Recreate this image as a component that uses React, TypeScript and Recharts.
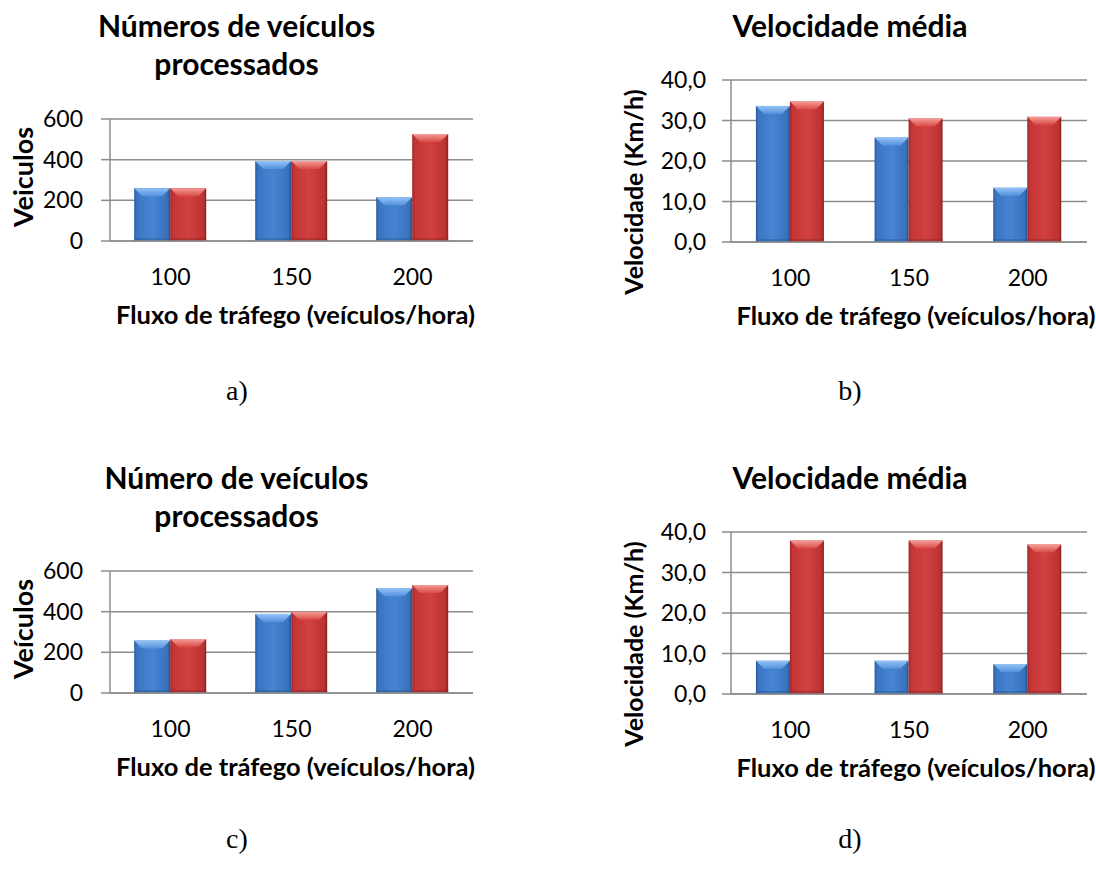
import React from "react";
import { Bar, BarChart, CartesianGrid, XAxis, YAxis } from "recharts";

const FONT = 'Lato, "Open Sans", sans-serif';
const GRAY = "#8c8c8c";

// fluxo de tráfego (veículos/hora)
const flows = ["100", "150", "200"];

// a) veículos processados
const vehA1 = [260, 393, 215];
const vehA2 = [260, 393, 526];
// b) velocidade média (km/h)
const speedB1 = [33.6, 25.8, 13.4];
const speedB2 = [34.7, 30.5, 30.9];
// c) veículos processados
const vehC1 = [258, 389, 515];
const vehC2 = [265, 399, 531];
// d) velocidade média (km/h)
const speedD1 = [8.2, 8.2, 7.4];
const speedD2 = [37.9, 37.9, 36.9];

const vehTicks = [0, 200, 400, 600];
const speedTicks = [0, 10, 20, 30, 40];

const toRows = (s1: number[], s2: number[]) => flows.map((f, i) => ({ flow: f, s1: s1[i], s2: s2[i] }));
const fmtSpeed = (v: number) => v.toFixed(1).replace(".", ",");

function BevelBar(props: any) {
  const { x, y, width, height, tone } = props;
  if (!height || height <= 0) return null;
  const bev = Math.min(8, height / 2, width / 3);
  return (
    <g>
      <rect x={x} y={y} width={width} height={height} fill={`url(#${tone}Body)`} />
      <polygon
        points={`${x},${y} ${x + width},${y} ${x + width - bev},${y + bev} ${x + bev},${y + bev}`}
        fill={`url(#${tone}Top)`}
      />
      <rect x={x} y={y + height - 3} width={width} height={3} fill={tone === "blue" ? "#2c5c9a" : "#962727"} opacity={0.5} />
    </g>
  );
}

const xTitle = (shift: number) => (props: any) => {
  const vb = props.viewBox || { x: 0, y: 0, width: 0, height: 0 };
  return (
    <text x={vb.x + vb.width / 2 + shift} y={vb.y + 83} textAnchor="middle" fontFamily={FONT} fontWeight={700} fontSize={25.5} fill="#000">
      Fluxo de tráfego (veículos/hora)
    </text>
  );
};

const yTitle = (text: string, bx: number, shift: number, size: number) => (props: any) => {
  const vb = props.viewBox || { x: 0, y: 0, width: 0, height: 0 };
  const cy = vb.y + vb.height / 2 + shift;
  return (
    <text x={bx} y={cy} transform={`rotate(-90 ${bx} ${cy})`} textAnchor="middle" fontFamily={FONT} fontWeight={700} fontSize={size} fill="#000">
      {text}
    </text>
  );
};

interface PanelProps {
  left: number;
  top: number;
  width: number;
  marginTop: number;
  marginRight: number;
  yWidth: number;
  xHeight: number;
  tickMargin: number;
  rows: { flow: string; s1: number; s2: number }[];
  max: number;
  ticks: number[];
  fmt?: (v: number) => string;
  yLabel: string;
  yLabelX: number;
  yLabelShift: number;
  yLabelSize: number;
  xLabelShift: number;
  gap: string;
}

function Panel(p: PanelProps) {
  return (
    <div style={{ position: "absolute", left: p.left, top: p.top }}>
      <BarChart
        width={p.width}
        height={340}
        data={p.rows}
        margin={{ top: p.marginTop, right: p.marginRight, bottom: 0, left: 0 }}
        barCategoryGap={p.gap}
        barGap={0}
      >
        <CartesianGrid vertical={false} stroke={GRAY} strokeWidth={1.5} />
        <XAxis
          dataKey="flow"
          height={p.xHeight}
          axisLine={{ stroke: GRAY, strokeWidth: 1.5 }}
          tickLine={false}
          tickSize={0}
          tickMargin={28}
          tick={{ fill: "#000", fontSize: 23, fontFamily: FONT }}
          label={xTitle(p.xLabelShift)}
        />
        <YAxis
          width={p.yWidth}
          domain={[0, p.max]}
          ticks={p.ticks}
          interval={0}
          tickFormatter={p.fmt}
          axisLine={{ stroke: GRAY, strokeWidth: 1.5 }}
          tickLine={{ stroke: GRAY, strokeWidth: 1.5 }}
          tickSize={9}
          tickMargin={p.tickMargin}
          tick={{ fill: "#000", fontSize: 23, fontFamily: FONT }}
          label={yTitle(p.yLabel, p.yLabelX, p.yLabelShift, p.yLabelSize)}
        />
        <Bar dataKey="s1" isAnimationActive={false} shape={(s: any) => <BevelBar {...s} tone="blue" />} />
        <Bar dataKey="s2" isAnimationActive={false} shape={(s: any) => <BevelBar {...s} tone="red" />} />
      </BarChart>
    </div>
  );
}

function Title({ left, top, width, lines }: { left: number; top: number; width: number; lines: string[] }) {
  return (
    <div
      style={{
        position: "absolute",
        left,
        top,
        width,
        textAlign: "center",
        fontFamily: FONT,
        fontWeight: 700,
        fontSize: 30,
        lineHeight: "38px",
        color: "#000",
      }}
    >
      {lines.map((l) => (
        <div key={l}>{l}</div>
      ))}
    </div>
  );
}

function Caption({ cx, baseline, text }: { cx: number; baseline: number; text: string }) {
  return (
    <div
      style={{
        position: "absolute",
        left: cx - 50,
        top: baseline - 26,
        width: 100,
        textAlign: "center",
        fontFamily: '"Liberation Serif", "Times New Roman", serif',
        fontSize: 28,
        lineHeight: "32px",
        color: "#000",
      }}
    >
      {text}
    </div>
  );
}

export default function App() {
  const vehPanel = { width: 480, marginTop: 119, marginRight: 7, yWidth: 110, xHeight: 99, tickMargin: 18, max: 600, ticks: vehTicks, yLabelX: 33, yLabelShift: -3, yLabelSize: 27, xLabelShift: 4, gap: "20%" };
  const speedPanel = { width: 496, marginTop: 80, marginRight: 9, yWidth: 131, xHeight: 98, tickMargin: 16, max: 40, ticks: speedTicks, fmt: fmtSpeed, yLabelX: 43, yLabelShift: 31, yLabelSize: 25, xLabelShift: 7, gap: "21%" };
  return (
    <div style={{ position: "absolute", left: 0, top: 0, width: 1096, height: 871, background: "#fff", overflow: "hidden" }}>
      <svg width={0} height={0} style={{ position: "absolute" }}>
        <defs>
          <linearGradient id="blueBody" x1="0" y1="0" x2="1" y2="0">
            <stop offset="0%" stopColor="#2a5a9c" />
            <stop offset="8%" stopColor="#3b75c3" />
            <stop offset="50%" stopColor="#4684d3" />
            <stop offset="92%" stopColor="#3a71bb" />
            <stop offset="100%" stopColor="#26508a" />
          </linearGradient>
          <linearGradient id="blueTop" x1="0" y1="0" x2="0" y2="1">
            <stop offset="0%" stopColor="#93c4f6" />
            <stop offset="100%" stopColor="#5590dc" />
          </linearGradient>
          <linearGradient id="redBody" x1="0" y1="0" x2="1" y2="0">
            <stop offset="0%" stopColor="#9c2727" />
            <stop offset="8%" stopColor="#c53535" />
            <stop offset="50%" stopColor="#d24141" />
            <stop offset="92%" stopColor="#bd3232" />
            <stop offset="100%" stopColor="#8a1f1f" />
          </linearGradient>
          <linearGradient id="redTop" x1="0" y1="0" x2="0" y2="1">
            <stop offset="0%" stopColor="#f59c98" />
            <stop offset="100%" stopColor="#d84a44" />
          </linearGradient>
        </defs>
      </svg>

      <Panel left={0} top={0} rows={toRows(vehA1, vehA2)} yLabel="Veiculos" {...vehPanel} />
      <Panel left={600} top={0} rows={toRows(speedB1, speedB2)} yLabel="Velocidade (Km/h)" {...speedPanel} />
      <Panel left={0} top={452} rows={toRows(vehC1, vehC2)} yLabel="Veículos" {...vehPanel} />
      <Panel left={600} top={452} rows={toRows(speedD1, speedD2)} yLabel="Velocidade (Km/h)" {...speedPanel} />

      <Title left={0} top={6} width={473} lines={["Números de veículos", "processados"]} />
      <Title left={610} top={6} width={480} lines={["Velocidade média"]} />
      <Title left={0} top={458} width={473} lines={["Número de veículos", "processados"]} />
      <Title left={610} top={458} width={480} lines={["Velocidade média"]} />

      <Caption cx={237} baseline={401} text="a)" />
      <Caption cx={850} baseline={401} text="b)" />
      <Caption cx={237} baseline={849} text="c)" />
      <Caption cx={850} baseline={849} text="d)" />
    </div>
  );
}
